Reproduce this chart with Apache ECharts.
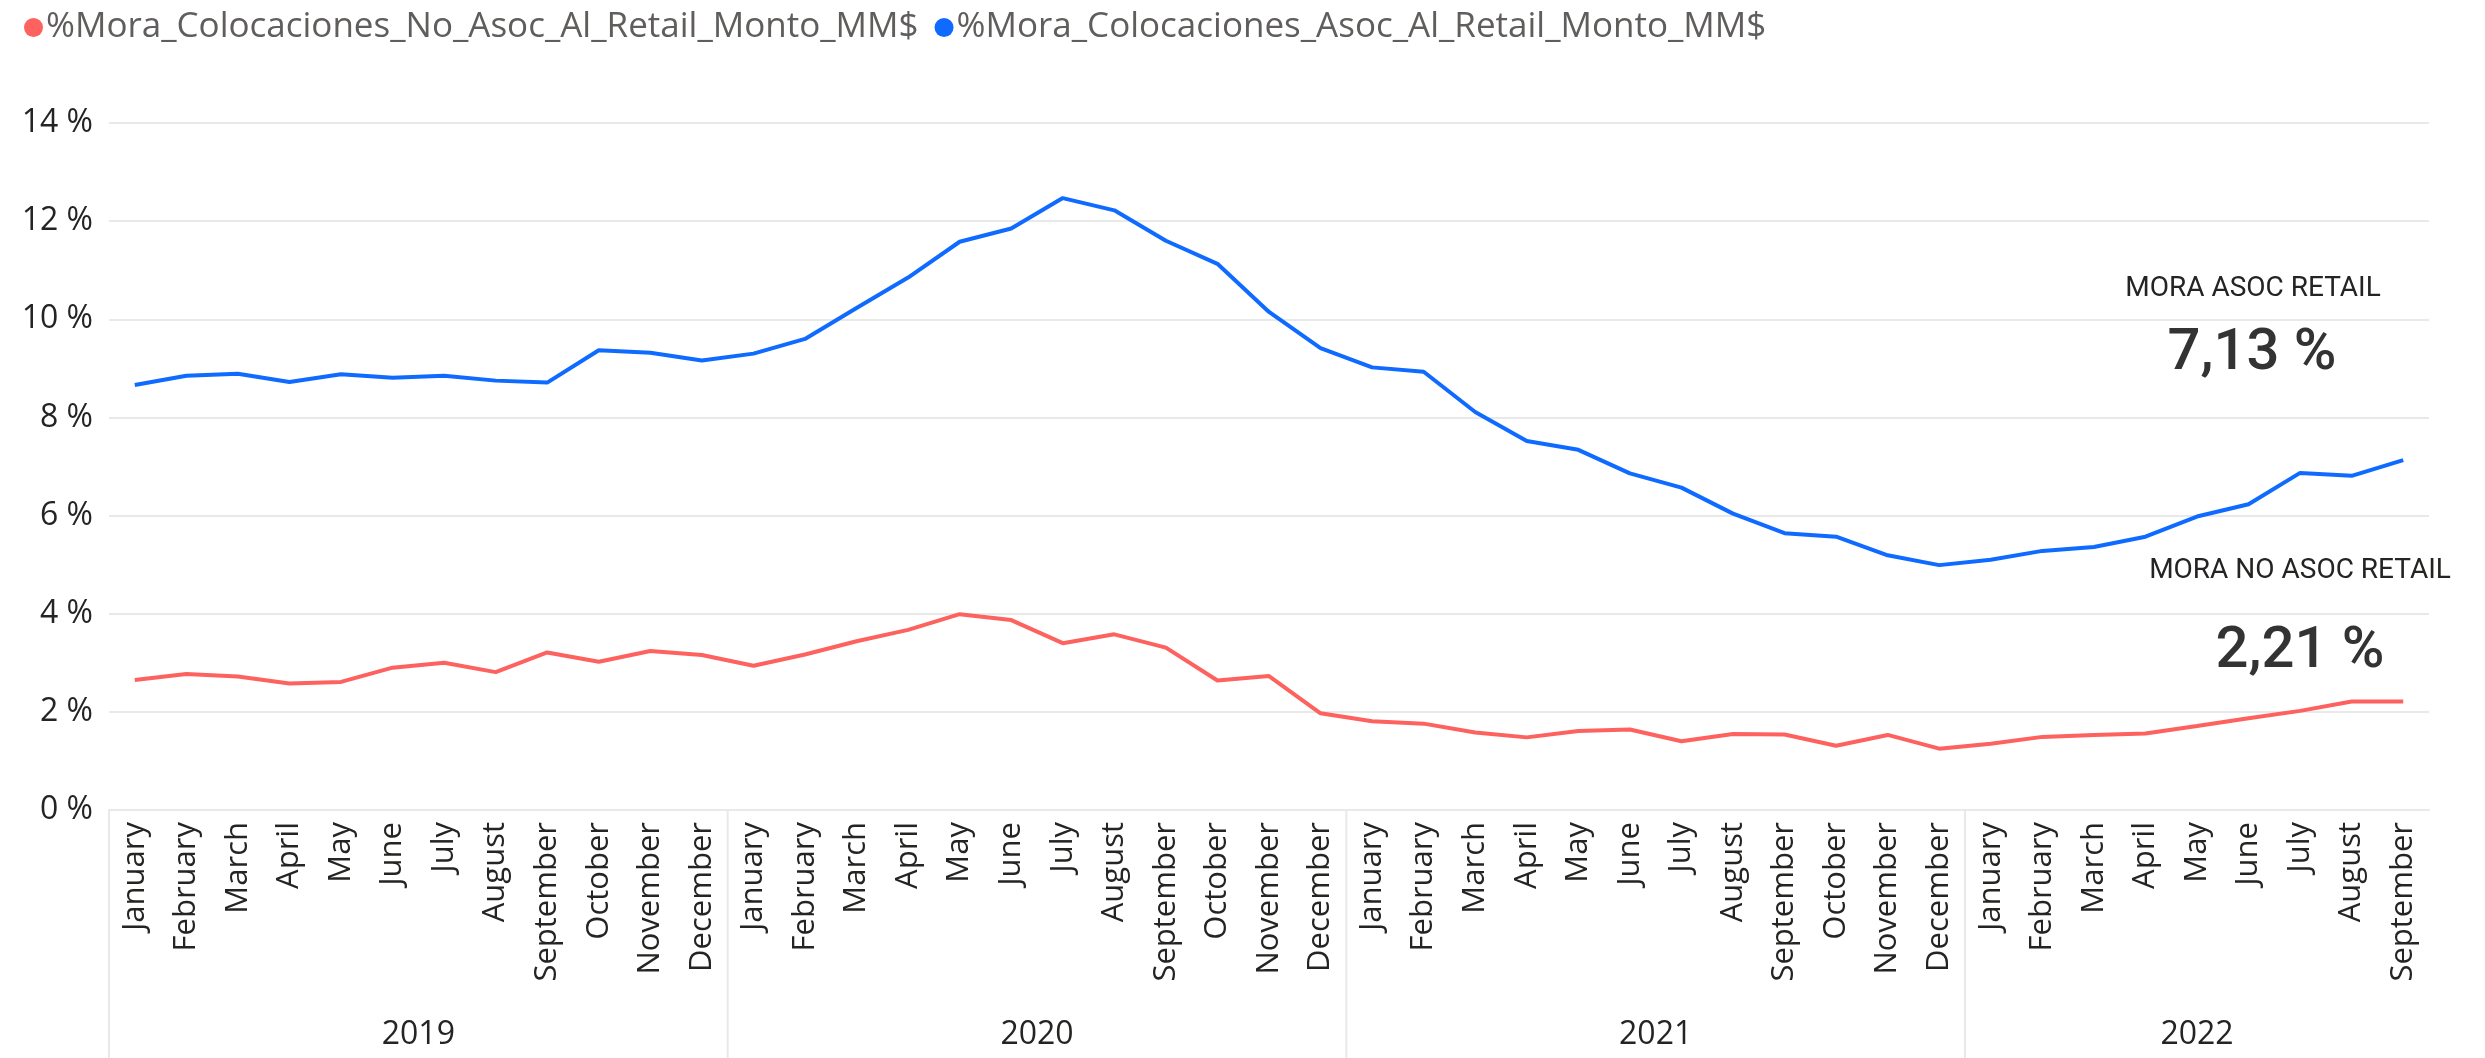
<!DOCTYPE html>
<html lang="es">
<head>
  <meta charset="UTF-8">
  <title>Mora Retail</title>
  <script src="https://cdn.jsdelivr.net/npm/echarts@6/dist/echarts.min.js"></script>
  <style>
    html, body { margin: 0; padding: 0; background: #fff; }
    #chart { width: 2485px; height: 1058px; }
  </style>
</head>
<body>
  <div id="chart"></div>
  <script>
    // datos
    var years = ['2019', '2020', '2021', '2022'];
    var monthsPerYear = [12, 12, 12, 9];
    var monthNames = ['January', 'February', 'March', 'April', 'May', 'June', 'July',
      'August', 'September', 'October', 'November', 'December'];

    var moraNoAsoc = [
      2.65, 2.77, 2.72, 2.58, 2.61, 2.90, 3.00, 2.81, 3.21, 3.02, 3.24, 3.16,
      2.94, 3.17, 3.44, 3.67, 3.99, 3.87, 3.40, 3.58, 3.31, 2.64, 2.73, 1.97,
      1.81, 1.76, 1.58, 1.48, 1.61, 1.64, 1.40, 1.55, 1.54, 1.31, 1.53, 1.25,
      1.35, 1.49, 1.53, 1.56, 1.71, 1.87, 2.02, 2.21, 2.21
    ];
    var moraAsoc = [
      8.66, 8.85, 8.89, 8.72, 8.88, 8.81, 8.85, 8.75, 8.71, 9.37, 9.32, 9.16,
      9.30, 9.60, 10.23, 10.85, 11.58, 11.85, 12.47, 12.22, 11.60, 11.13, 10.15, 9.41,
      9.02, 8.93, 8.11, 7.52, 7.34, 6.86, 6.57, 6.04, 5.64, 5.57, 5.19, 4.99,
      5.10, 5.28, 5.36, 5.57, 5.98, 6.23, 6.87, 6.81, 7.13
    ];

    var nameNoAsoc = '%Mora_Colocaciones_No_Asoc_Al_Retail_Monto_MM$';
    var nameAsoc = '%Mora_Colocaciones_Asoc_Al_Retail_Monto_MM$';

    var monthLabels = [];
    var yearGroups = [];
    var pos = 0;
    for (var i = 0; i < years.length; i++) {
      for (var m = 0; m < monthsPerYear[i]; m++) monthLabels.push(monthNames[m]);
      yearGroups.push([pos - 0.5, pos + monthsPerYear[i] - 0.5, years[i]]);
      pos += monthsPerYear[i];
    }

    function fmtPct(v) {
      return v.toFixed(2).replace('.', ',') + ' %';
    }

    var font = '"Segoe UI", "Open Sans", sans-serif';
    var cardFont = 'Roboto, "Liberation Sans", sans-serif';
    var gridColor = '#e9e9e9';

    var chart = echarts.init(document.getElementById('chart'));
    chart.setOption({
      animation: false,
      legend: {
        left: 19,
        top: 5,
        icon: 'circle',
        itemWidth: 19,
        itemHeight: 19,
        itemGap: 16,
        data: [nameNoAsoc, nameAsoc],
        textStyle: { fontFamily: font, fontSize: 35, color: '#605e5c', padding: [0, 0, 0, -2] }
      },
      grid: { left: 109, right: 56, top: 123, bottom: 248 },
      xAxis: [{
        type: 'category',
        data: monthLabels,
        boundaryGap: true,
        axisLine: { show: true, lineStyle: { color: gridColor, width: 2 } },
        axisTick: { show: false },
        axisLabel: {
          interval: 0,
          rotate: 90,
          margin: 12,
          fontFamily: font,
          fontSize: 31,
          color: '#252423'
        }
      }, {
        type: 'value',
        min: -0.5,
        max: monthLabels.length - 0.5,
        show: false
      }],
      yAxis: {
        type: 'value',
        min: 0,
        max: 14,
        interval: 2,
        axisLine: { show: false },
        axisTick: { show: false },
        splitLine: { lineStyle: { color: gridColor, width: 2 } },
        axisLabel: {
          formatter: '{value} %',
          margin: 16,
          fontFamily: font,
          fontSize: 32,
          color: '#252423'
        }
      },
      series: [{
        name: nameNoAsoc,
        type: 'line',
        data: moraNoAsoc,
        showSymbol: false,
        color: '#fd625e',
        lineStyle: { width: 4 }
      }, {
        name: nameAsoc,
        type: 'line',
        data: moraAsoc,
        showSymbol: false,
        color: '#0f6bff',
        lineStyle: { width: 4 }
      }, {
        // etiquetas de año y separadores bajo el eje
        type: 'custom',
        xAxisIndex: 1,
        clip: false,
        silent: true,
        data: yearGroups,
        renderItem: function (params, api) {
          var a = api.coord([api.value(0), 0]);
          var b = api.coord([api.value(1), 0]);
          return {
            type: 'group',
            children: [{
              type: 'line',
              shape: { x1: a[0], y1: a[1], x2: a[0], y2: 1058 },
              style: { stroke: gridColor, lineWidth: 2 }
            }, {
              type: 'text',
              x: (a[0] + b[0]) / 2,
              y: a[1] + 225,
              style: {
                text: yearGroups[params.dataIndex][2],
                align: 'center',
                verticalAlign: 'middle',
                font: '32px ' + font,
                fill: '#252423'
              }
            }]
          };
        }
      }],
      graphic: [{
        type: 'text', x: 2253, y: 289,
        style: { text: 'MORA ASOC RETAIL', align: 'center', verticalAlign: 'middle',
          font: '28px ' + cardFont, fill: '#252423' }
      }, {
        type: 'text', x: 2252, y: 354,
        style: { text: fmtPct(moraAsoc[moraAsoc.length - 1]), align: 'center', verticalAlign: 'middle',
          font: '500 58px ' + cardFont, fill: '#333333' }
      }, {
        type: 'text', x: 2300, y: 571,
        style: { text: 'MORA NO ASOC RETAIL', align: 'center', verticalAlign: 'middle',
          font: '28px ' + cardFont, fill: '#252423' }
      }, {
        type: 'text', x: 2300, y: 652,
        style: { text: fmtPct(moraNoAsoc[moraNoAsoc.length - 1]), align: 'center', verticalAlign: 'middle',
          font: '500 58px ' + cardFont, fill: '#333333' }
      }]
    });
  </script>
</body>
</html>
